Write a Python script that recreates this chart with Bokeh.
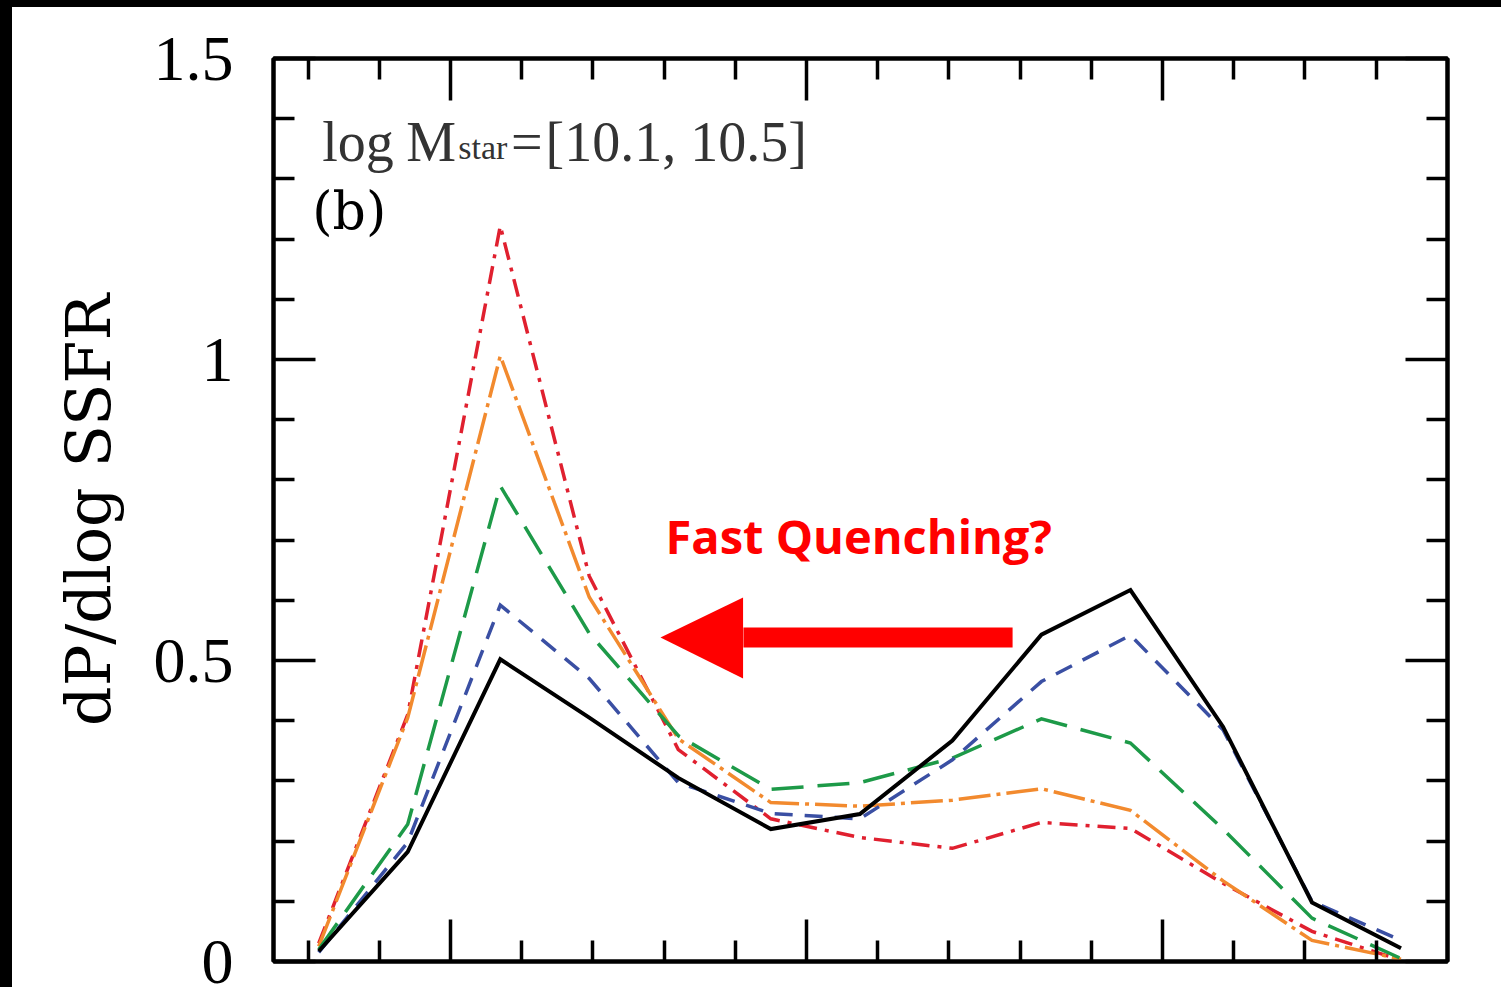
from bokeh.plotting import figure
from bokeh.models import (ColumnDataSource, FixedTicker, NumeralTickFormatter,
                          CustomJSTickFormatter, LinearAxis, Label, Div, Range1d)
from bokeh.layouts import column, row
from bokeh.embed import file_html
from bokeh.resources import INLINE

# ---------------- data ----------------
log_ssfr = [-12.37, -12.12, -11.86, -11.61, -11.36, -11.10, -10.85,
            -10.59, -10.34, -10.09, -9.83, -9.58, -9.33]

dp_black = [0.017, 0.182, 0.502, 0.405, 0.305, 0.220, 0.245,
            0.367, 0.543, 0.617, 0.390, 0.098, 0.022]
dp_blue = [0.015, 0.198, 0.592, 0.470, 0.297, 0.246, 0.237,
           0.335, 0.465, 0.542, 0.385, 0.100, 0.035]
dp_green = [0.020, 0.228, 0.790, 0.545, 0.375, 0.286, 0.297,
            0.338, 0.403, 0.363, 0.220, 0.072, 0.005]
dp_orange = [0.025, 0.405, 1.006, 0.605, 0.370, 0.264, 0.258,
             0.268, 0.287, 0.251, 0.134, 0.035, 0.004]
dp_red = [0.030, 0.410, 1.222, 0.640, 0.352, 0.237, 0.206,
          0.188, 0.231, 0.221, 0.130, 0.050, 0.002]

y_major_ticks = [0, 0.5, 1, 1.5]
y_minor_ticks = [0.1, 0.2, 0.3, 0.4, 0.6, 0.7, 0.8, 0.9, 1.1, 1.2, 1.3, 1.4]
x_major_ticks = [-12, -11, -10]
x_minor_ticks = [-12.4, -12.2, -11.8, -11.6, -11.4, -11.2, -10.8, -10.6,
                 -10.4, -10.2, -9.8, -9.6, -9.4]

# annotation anchors (data coordinates)
arrow_shaft = dict(left=-11.177, right=-10.421, bottom=0.5216, top=0.5548)
arrow_head_x = [-11.178, -11.178, -11.410]
arrow_head_y = [0.6047, 0.4701, 0.5382]
text_shift = 0.035   # baseline correction

# ---------------- figure ----------------
p = figure(width=1489, height=980,
           x_range=Range1d(-12.497, -9.1994), y_range=Range1d(0, 1.5),
           output_backend="svg", toolbar_location=None,
           min_border_left=261, min_border_right=54,
           min_border_top=51, min_border_bottom=26,
           background_fill_color="white", border_fill_color="white")
p.grid.visible = False
p.outline_line_color = "black"
p.outline_line_width = 4

xticker = FixedTicker(ticks=x_major_ticks, minor_ticks=x_minor_ticks)
yticker = FixedTicker(ticks=y_major_ticks, minor_ticks=y_minor_ticks)
blank = CustomJSTickFormatter(code="return ''")

bottom_axis = p.below[0]
left_axis = p.left[0]
bottom_axis.ticker = xticker
bottom_axis.formatter = blank
left_axis.ticker = yticker
left_axis.formatter = NumeralTickFormatter(format="0.[0]")

top_axis = LinearAxis(ticker=xticker, formatter=blank)
right_axis = LinearAxis(ticker=yticker, formatter=blank)
p.add_layout(top_axis, "above")
p.add_layout(right_axis, "right")

for ax in [bottom_axis, left_axis, top_axis, right_axis]:
    ax.axis_line_color = "black"
    ax.axis_line_width = 4
    ax.major_tick_in = 42
    ax.major_tick_out = 0
    ax.minor_tick_in = 21
    ax.minor_tick_out = 0
    ax.major_tick_line_width = 3.5
    ax.minor_tick_line_width = 3.5
    ax.major_tick_line_color = "black"
    ax.minor_tick_line_color = "black"

left_axis.major_label_text_font = "Liberation Serif"
left_axis.major_label_text_font_size = "64px"
left_axis.major_label_text_color = "black"
left_axis.major_label_standoff = 40
left_axis.axis_label = "dP/dlog SSFR"
left_axis.axis_label_text_font = "DejaVu Serif"
left_axis.axis_label_text_font_size = "62px"
left_axis.axis_label_text_font_style = "normal"
left_axis.axis_label_text_color = "black"
left_axis.axis_label_standoff = 26

# ---------------- lines ----------------
src = ColumnDataSource(dict(x=log_ssfr, black=dp_black, blue=dp_blue,
                            green=dp_green, orange=dp_orange, red=dp_red))
styles = [
    ("red", "#e0202f", "18 8 4 8", 3.5),
    ("orange", "#f28a2e", "32 6 4 6", 3.5),
    ("green", "#1d9a48", "32 14", 3.5),
    ("blue", "#3a4fa3", "18 12", 3.5),
    ("black", "black", "solid", 4),
]
for col, color, dash, w in styles:
    p.line("x", col, source=src, line_color=color, line_dash=dash,
           line_width=w, line_join="miter")

# ---------------- arrow ----------------
p.quad(left=[arrow_shaft["left"]], right=[arrow_shaft["right"]],
       bottom=[arrow_shaft["bottom"]], top=[arrow_shaft["top"]],
       fill_color="#ff0000", line_color=None)
p.patch(arrow_head_x, arrow_head_y, fill_color="#ff0000", line_color=None)

# ---------------- texts ----------------
def add_text(x, y, text, font, size, color, style="normal"):
    p.add_layout(Label(x=x, y=y + text_shift, text=text, text_font=font,
                       text_font_size=size, text_color=color, text_font_style=style,
                       text_baseline="alphabetic", text_align="left"))

add_text(-12.36, 1.3256, "log", "Liberation Serif", "56px", "#333333")
add_text(-12.124, 1.3256, "M", "Liberation Serif", "56px", "#333333")
add_text(-11.978, 1.3173, "star", "Liberation Serif", "34px", "#333333")
add_text(-11.830, 1.3256, "=", "Liberation Serif", "56px", "#333333")
add_text(-11.733, 1.3256, "[10.1, 10.5]", "Liberation Serif", "56px", "#333333")
add_text(-12.388, 1.211, "(b)", "DejaVu Serif", "52px", "black")
add_text(-11.396, 0.671, "Fast Quenching?", "Open Sans", "47px", "#ff0000", "bold")

# ---------------- page frame (black strips) ----------------
top_strip = Div(width=1501, height=7, margin=0, styles={"background-color": "black"})
left_strip = Div(width=12, height=980, margin=0, styles={"background-color": "black"})
p.margin = 0
layout = column(top_strip, row(left_strip, p, spacing=0), spacing=0)

open("out.html", "w").write(file_html(layout, INLINE))
